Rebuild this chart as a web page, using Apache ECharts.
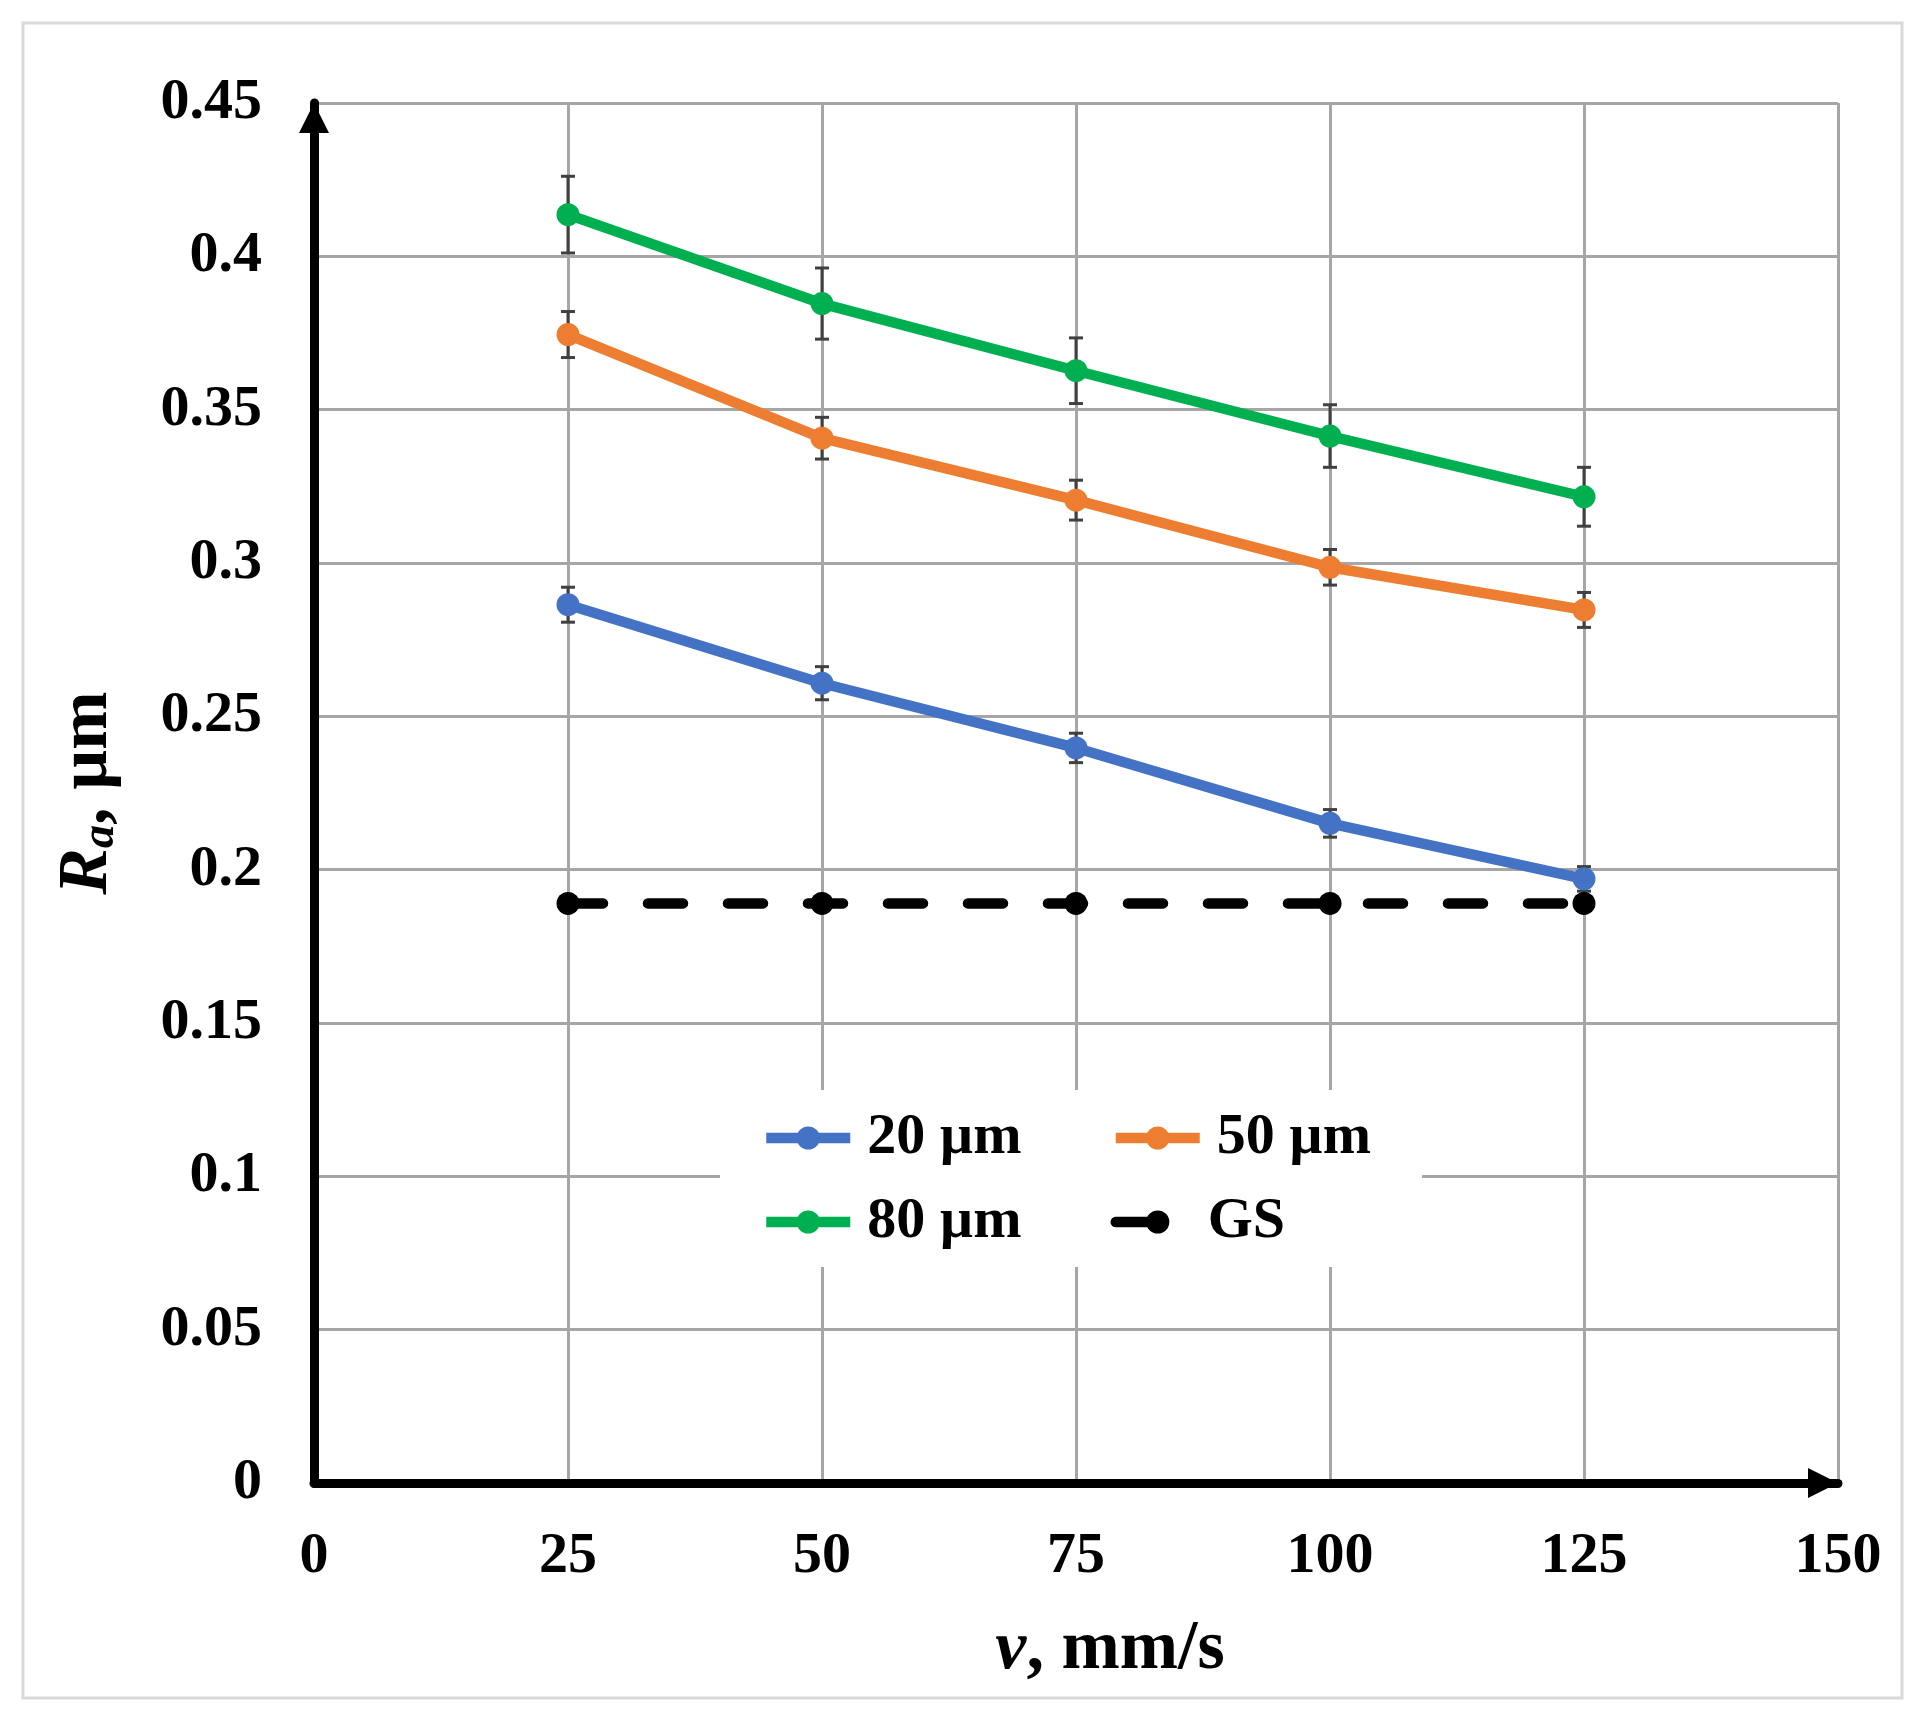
<!DOCTYPE html>
<html><head><meta charset="utf-8">
<script src="https://cdn.jsdelivr.net/npm/echarts@6/dist/echarts.min.js"></script>
<style>html,body{margin:0;padding:0;background:#fff}#c{width:1924px;height:1728px}</style>
</head><body><div id="c"></div>
<script>
const speeds = [25, 50, 75, 100, 125];
const ra20 = [0.2864, 0.2608, 0.2397, 0.2151, 0.1970];
const err20 = [0.0057, 0.0054, 0.0048, 0.0045, 0.0040];
const ra50 = [0.3745, 0.3407, 0.3205, 0.2986, 0.2847];
const err50 = [0.0075, 0.0068, 0.0065, 0.0058, 0.0057];
const ra80 = [0.4136, 0.3846, 0.3627, 0.3414, 0.3216];
const err80 = [0.0125, 0.0116, 0.0107, 0.0102, 0.0096];
const raGS = [0.189, 0.189, 0.189, 0.189, 0.189];
const xTickLabels = ['0', '25', '50', '75', '100', '125', '150'];
const yTickLabels = ['0', '0.05', '0.1', '0.15', '0.2', '0.25', '0.3', '0.35', '0.4', '0.45'];
const seriesNames = ['20 µm', '50 µm', '80 µm', 'GS'];
const colors = ['#4472C4', '#ED7D31', '#00B050', '#000000'];

const F = "'Liberation Serif', 'Times New Roman', serif";
const chart = echarts.init(document.getElementById('c'), null, {renderer: 'canvas'});

function pts(vals) { return speeds.map((x, i) => [x, vals[i]]); }
function errSeries(vals, errs) {
  return {
    type: 'custom', z: 1, silent: true,
    encode: {x: 0, y: [1, 2]},
    data: speeds.map((x, i) => [x, vals[i] - errs[i], vals[i] + errs[i]]),
    renderItem: function (params, api) {
      const lo = api.coord([api.value(0), api.value(1)]);
      const hi = api.coord([api.value(0), api.value(2)]);
      const w = 7;
      const st = {stroke: '#404040', lineWidth: 3};
      return {type: 'group', children: [
        {type: 'line', shape: {x1: lo[0], y1: lo[1], x2: hi[0], y2: hi[1]}, style: st},
        {type: 'line', shape: {x1: lo[0] - w, y1: lo[1], x2: lo[0] + w, y2: lo[1]}, style: st},
        {type: 'line', shape: {x1: hi[0] - w, y1: hi[1], x2: hi[0] + w, y2: hi[1]}, style: st}
      ]};
    }
  };
}
function lineSeries(name, vals, color, dashed) {
  return {
    name: name, type: 'line', z: 3, data: pts(vals),
    symbol: 'circle', symbolSize: 23, showSymbol: true,
    lineStyle: {width: 10.5, color: color, type: dashed ? [35, 45] : 'solid', cap: dashed ? 'round' : 'butt'},
    itemStyle: {color: color},
    emphasis: {disabled: true}
  };
}
const legendText = {fontSize: 58, fontWeight: 'bold', fontFamily: F, color: '#000', lineHeight: 60, padding: [0, 0, 0, 12]};

const option = {
  animation: false,
  backgroundColor: '#ffffff',
  grid: {left: 314, right: 86, top: 103, bottom: 245, containLabel: false, outerBoundsMode: 'none'},
  graphic: [
    {type: 'rect', silent: true, z: 0, shape: {x: 23, y: 23, width: 1879, height: 1675}, style: {fill: 'none', stroke: '#D9D9D9', lineWidth: 3}},
    {type: 'rect', silent: true, z: 3, shape: {x: 720, y: 1090, width: 702, height: 177}, style: {fill: '#ffffff'}}
  ],
  legend: [
    {data: [seriesNames[0], seriesNames[1]], left: 761, top: 1108, padding: 0, itemGap: 89, itemWidth: 84, itemHeight: 29,
     textStyle: legendText, lineStyle: {width: 10.5}, selectedMode: false},
    {data: [seriesNames[2], {name: seriesNames[3], lineStyle: {type: [40, 200], cap: 'round', width: 10.5},
       textStyle: {fontSize: 58, fontWeight: 'bold', fontFamily: F, color: '#000', lineHeight: 60, padding: [0, 0, 0, 3]}}],
     left: 761, top: 1192, padding: 0, itemGap: 89, itemWidth: 84, itemHeight: 29,
     textStyle: legendText, lineStyle: {width: 10.5}, selectedMode: false}
  ],
  xAxis: {
    type: 'value', min: 0, max: 150, interval: 25,
    axisLine: {show: true, onZero: false, lineStyle: {color: '#000', width: 9}, symbol: ['none', 'triangle'], symbolSize: [30, 30], symbolOffset: [0, -15]},
    axisTick: {show: false},
    axisLabel: {margin: 45, fontSize: 58, fontWeight: 'bold', fontFamily: F, color: '#000', formatter: (v, i) => xTickLabels[i]},
    splitLine: {show: true, lineStyle: {color: '#A6A6A6', width: 3}},
    name: '{v|v}{n|, mm/s}', nameLocation: 'middle', nameGap: 132, nameMoveOverlap: false,
    nameTextStyle: {padding: [0, 0, 0, 68], rich: {
      v: {fontSize: 70, fontStyle: 'italic', fontWeight: 'bold', fontFamily: F, color: '#000'},
      n: {fontSize: 70, fontWeight: 'bold', fontFamily: F, color: '#000'}
    }}
  },
  yAxis: {
    type: 'value', min: 0, max: 0.45, interval: 0.05,
    axisLine: {show: true, onZero: false, lineStyle: {color: '#000', width: 9}, symbol: ['none', 'triangle'], symbolSize: [30, 30], symbolOffset: [0, -15]},
    axisTick: {show: false},
    axisLabel: {margin: 52, fontSize: 58, fontWeight: 'bold', fontFamily: F, color: '#000', formatter: (v, i) => yTickLabels[i]},
    splitLine: {show: true, lineStyle: {color: '#A6A6A6', width: 3}},
    name: '{r|R}{a|a}{n|, µm}', nameLocation: 'middle', nameGap: 190, nameMoveOverlap: false,
    nameTextStyle: {rich: {
      r: {fontSize: 70, fontStyle: 'italic', fontWeight: 'bold', fontFamily: F, color: '#000'},
      a: {fontSize: 46, fontStyle: 'italic', fontWeight: 'bold', fontFamily: F, color: '#000', padding: [26, 0, 0, 0]},
      n: {fontSize: 70, fontWeight: 'bold', fontFamily: F, color: '#000'}
    }}
  },
  series: [
    errSeries(ra20, err20),
    errSeries(ra50, err50),
    errSeries(ra80, err80),
    lineSeries(seriesNames[0], ra20, colors[0], false),
    lineSeries(seriesNames[1], ra50, colors[1], false),
    lineSeries(seriesNames[2], ra80, colors[2], false),
    lineSeries(seriesNames[3], raGS, colors[3], true)
  ]
};
chart.setOption(option);
</script>
</body></html>
